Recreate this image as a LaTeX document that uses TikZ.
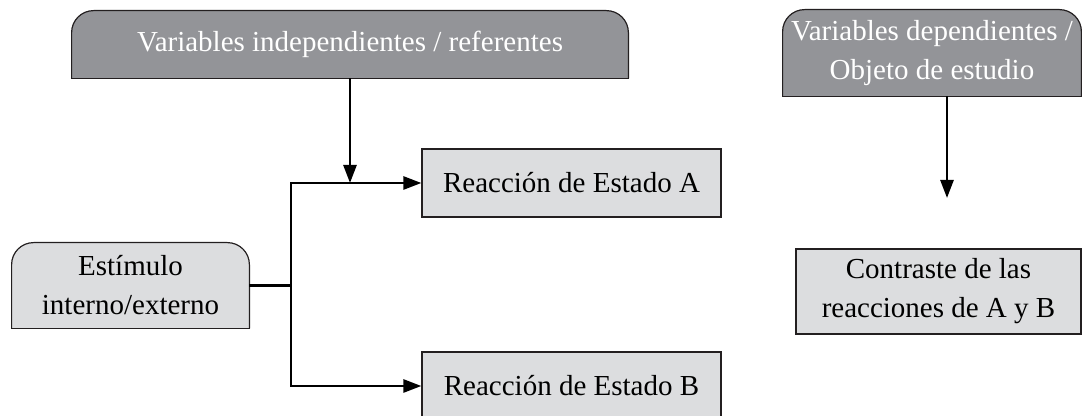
\documentclass[tikz,border=0pt]{standalone}
\usepackage{fontspec}
\setmainfont{Liberation Serif}
\usepackage{tikz}
\usetikzlibrary{arrows.meta, backgrounds}
\usepackage{xcolor}
\definecolor{darkgrey}{RGB}{147,148,152}
\definecolor{lightgrey}{RGB}{220,221,223}
\definecolor{edge}{RGB}{35,31,32}

\begin{document}
\begin{tikzpicture}[x=0.5pt, y=-0.5pt,
  font=\fontsize{14.5}{19.5}\selectfont,
  box/.style={draw=edge, line width=0.6pt, fill=lightgrey, inner sep=0pt, align=center},
  roundbox/.style={inner sep=0pt, align=center},
  wire/.style={line width=1.3pt},
  link/.style={wire, -{Triangle[length=9pt, width=6.5pt]}}]

\useasboundingbox (0,0) rectangle (1082,416);

\node[roundbox, text=white, minimum width=278pt, minimum height=33.5pt] (indep) at (350,44.5) {Variables independientes / referentes};
\node[roundbox, text=white, minimum width=149pt, minimum height=43pt] (dep) at (932,53) {Variables dependientes /\\Objeto de estudio};
\node[roundbox, minimum width=118.5pt, minimum height=42.5pt] (est) at (130.5,285.5) {Estímulo\\interno/externo};
\node[box, minimum width=149.5pt, minimum height=34pt] (A) at (571.5,183) {Reacción de Estado A};
\node[box, minimum width=149.5pt, minimum height=34pt] (B) at (571.5,386) {Reacción de Estado B};
\node[box, minimum width=142.5pt, minimum height=42.5pt] (contr) at (938.5,291.5) {Contraste de las\\reacciones de A y B};

\begin{pgfonlayer}{background}
\foreach \n/\c in {indep/darkgrey, dep/darkgrey, est/lightgrey}{
  \fill[\c, rounded corners=11pt] (\n.south west) -- (\n.north west) -- (\n.north east) -- (\n.south east);
  \draw[edge, line width=0.6pt, rounded corners=11pt] (\n.south west) -- (\n.north west) -- (\n.north east) -- (\n.south east);
  \draw[edge, line width=0.6pt, line cap=rect] (\n.south west) -- (\n.south east);
}
\end{pgfonlayer}

\coordinate (split) at (291,285.5);
\coordinate (drop) at (indep.south |- A.west);
\coordinate (cEnd) at (947,198);

\draw[wire] (est.east) -- (split);
\draw[link] (split) |- (A.west);
\draw[link] (split) |- (B.west);
\draw[link] (indep.south) -- (drop);
\draw[link] (dep.south -| cEnd) -- (cEnd);

\end{tikzpicture}
\end{document}
